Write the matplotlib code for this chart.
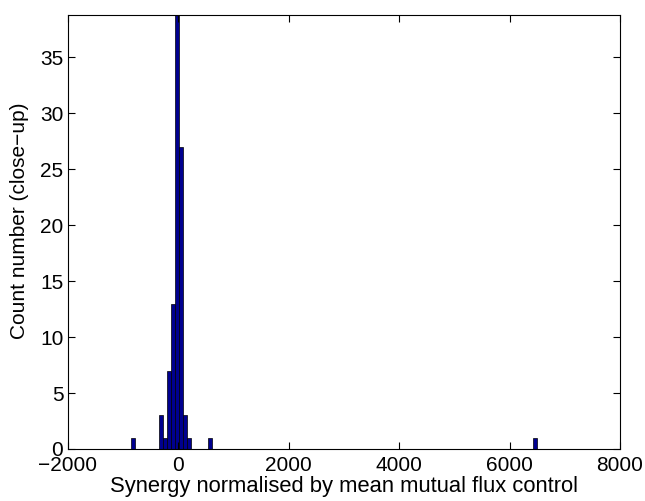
import matplotlib
matplotlib.use('Agg')
import matplotlib.pyplot as plt

# histogram bins (centres) and counts
bin_centres = [-823, -309, -235, -162, -88, -15, 59, 132, 206, 573, 6453]
counts = [1, 3, 1, 7, 13, 120, 27, 3, 1, 1, 1]
bin_width = 73.5

plt.rcParams['font.family'] = ['Liberation Sans', 'DejaVu Sans']
plt.rcParams['font.size'] = 15

fig = plt.figure(figsize=(6.45, 5.01), dpi=100)
ax = fig.add_axes([0.1047, 0.1038, 0.8566, 0.8663])
ax.bar(bin_centres, counts, width=bin_width, color='#00008f', edgecolor='black', linewidth=0.5)

ax.set_xlim(-2000, 8000)
ax.set_ylim(0, 38.8)
ax.set_xticks([-2000, 0, 2000, 4000, 6000, 8000])
ax.set_yticks(range(0, 40, 5))
ax.tick_params(direction='in', top=True, right=True, length=5, pad=3)
ax.tick_params(axis='x', pad=5)
ax.set_xlabel('Synergy normalised by mean mutual flux control', fontsize=15.8, labelpad=1)
ax.set_ylabel('Count number (close\u2212up)')
ax.yaxis.set_label_coords(-0.07, 0.526)

fig.savefig('out.png', dpi=100)
